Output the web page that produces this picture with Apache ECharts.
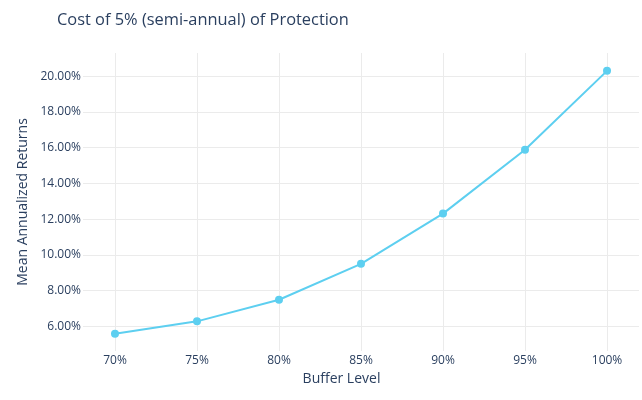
<!DOCTYPE html>
<html><head><meta charset="utf-8">
<script src="https://cdn.jsdelivr.net/npm/echarts@6/dist/echarts.min.js"></script>
<style>html,body{margin:0;padding:0;background:#fff}#c{width:642px;height:400px}</style>
</head><body><div id="c"></div>
<script>
const bufferLevels = [70, 75, 80, 85, 90, 95, 100];
const meanReturns = [5.59, 6.28, 7.49, 9.50, 12.31, 15.88, 20.30];
const xTicks = [70, 75, 80, 85, 90, 95, 100];
const yTicks = [6, 8, 10, 12, 14, 16, 18, 20];

const FONT = '"Open Sans", verdana, arial, sans-serif';
const TXT = '#2a3f5f';
const GRID = '#ebebeb';
const chart = echarts.init(document.getElementById('c'), null, {renderer: 'canvas'});
chart.setOption({
  animation: false,
  backgroundColor: '#fff',
  textStyle: {fontFamily: FONT},
  title: {
    text: 'Cost of 5% (semi-annual) of Protection',
    left: 57, top: 12, padding: 0,
    textStyle: {fontFamily: FONT, fontSize: 16.4, fontWeight: 'normal', color: TXT}
  },
  grid: {left: 83, right: 3, top: 53, bottom: 49},
  xAxis: {
    type: 'value', min: 68.05, max: 101.95,
    name: 'Buffer Level', nameLocation: 'middle', nameGap: 21,
    nameTextStyle: {fontFamily: FONT, fontSize: 14, color: TXT, padding: [0, 39, 0, 0]},
    axisLine: {show: false},
    axisTick: {show: false, customValues: xTicks},
    axisLabel: {customValues: xTicks, margin: 4, fontFamily: FONT, fontSize: 12, color: TXT,
      formatter: v => v + '%'},
    splitLine: {show: true, lineStyle: {color: GRID, width: 1}}
  },
  yAxis: {
    type: 'value', min: 4.62, max: 21.30,
    name: 'Mean Annualized Returns', nameLocation: 'middle', nameGap: 44,
    nameTextStyle: {fontFamily: FONT, fontSize: 14, color: TXT},
    axisLine: {show: false},
    axisTick: {show: false, customValues: yTicks},
    axisLabel: {customValues: yTicks, margin: 2, fontFamily: FONT, fontSize: 12, color: TXT,
      formatter: v => v.toFixed(2) + '%'},
    splitLine: {show: true, lineStyle: {color: GRID, width: 1}}
  },
  series: [{
    type: 'line',
    data: bufferLevels.map((x, i) => [x, meanReturns[i]]),
    symbol: 'circle', symbolSize: 8,
    lineStyle: {color: '#5dcff0', width: 2},
    itemStyle: {color: '#5dcff0'}
  }]
});
</script></body></html>
